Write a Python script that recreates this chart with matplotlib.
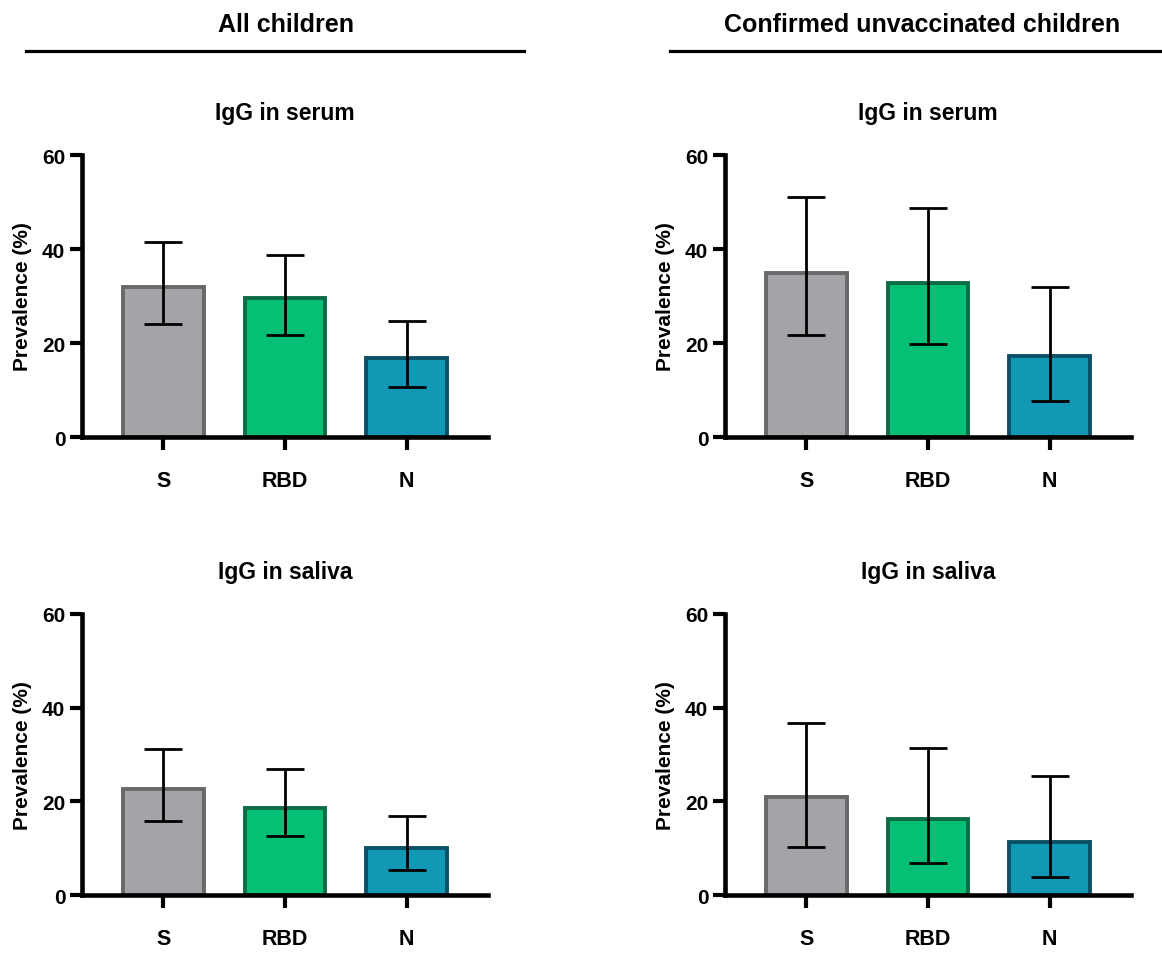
import numpy as np
import matplotlib
matplotlib.use("Agg")
import matplotlib.pyplot as plt
from matplotlib.lines import Line2D

plt.rcParams['font.family'] = ['Liberation Sans', 'DejaVu Sans']
plt.rcParams['font.weight'] = 'bold'

antigens = ['S', 'RBD', 'N']
groups = ['All children', 'Confirmed unvaccinated children']
samples = ['IgG in serum', 'IgG in saliva']

# prevalence (%) with lower / upper limits
all_serum = [32.0, 29.6, 16.8]
all_serum_lo = [24.1, 21.8, 10.6]
all_serum_hi = [41.4, 38.8, 24.7]

all_saliva = [22.6, 18.6, 10.0]
all_saliva_lo = [15.9, 12.5, 5.4]
all_saliva_hi = [31.2, 26.9, 16.9]

unvac_serum = [35.0, 32.7, 17.3]
unvac_serum_lo = [21.6, 19.8, 7.7]
unvac_serum_hi = [51.0, 48.8, 31.9]

unvac_saliva = [20.9, 16.2, 11.4]
unvac_saliva_lo = [10.2, 6.8, 3.9]
unvac_saliva_hi = [36.7, 31.3, 25.5]

fills = ['#A4A3A8', '#05BF74', '#1198B4']
edges = ['#686868', '#0D6B45', '#0B5066']

panels = {
    (0, 0): (all_serum, all_serum_lo, all_serum_hi),
    (1, 0): (all_saliva, all_saliva_lo, all_saliva_hi),
    (0, 1): (unvac_serum, unvac_serum_lo, unvac_serum_hi),
    (1, 1): (unvac_saliva, unvac_saliva_lo, unvac_saliva_hi),
}

W, H = 1162, 954
fig = plt.figure(figsize=(W / 100, H / 100), dpi=100)

lefts = [82, 725]
tops = [156, 615]
bottoms = [438, 896]
ax_w = 406

for (r, c), (vals, lo, hi) in panels.items():
    ax = fig.add_axes([lefts[c] / W, 1 - bottoms[r] / H, ax_w / W,
                       (bottoms[r] - tops[r]) / H])
    x = np.arange(len(antigens))
    vals = np.array(vals)
    yerr = [vals - np.array(lo), np.array(hi) - vals]
    ax.bar(x, vals, width=0.66, color=fills, edgecolor=edges,
           linewidth=2.8, zorder=2)
    ax.errorbar(x, vals, yerr=yerr, fmt='none', ecolor='black',
                elinewidth=2.0, capsize=14, capthick=2.0, zorder=3)
    ax.set_xlim(-0.67, 2.67)
    ax.set_ylim(0, 60)
    ax.set_yticks([0, 20, 40, 60])
    ax.set_xticks(x)
    ax.set_xticklabels(antigens)
    for s in ['top', 'right']:
        ax.spines[s].set_visible(False)
    for s in ['left', 'bottom']:
        ax.spines[s].set_linewidth(3.3)
    ax.tick_params(axis='both', length=9, width=3, labelsize=15)
    ax.tick_params(axis='x', pad=15, labelsize=15.5)
    ax.tick_params(axis='y', pad=3)
    for lab in ax.get_xticklabels() + ax.get_yticklabels():
        lab.set_fontweight('bold')
    ax.set_ylabel('Prevalence (%)', fontsize=15, fontweight='bold', labelpad=7)
    ax.set_title(samples[r], fontsize=16.5, fontweight='bold', pad=26)

# group headers with rules underneath
fig.text(286 / W, 1 - 32 / H, groups[0], ha='center', va='baseline',
         fontsize=18, fontweight='bold')
fig.text(922 / W, 1 - 32 / H, groups[1], ha='center', va='baseline',
         fontsize=18, fontweight='bold')
y_rule = 1 - 51.7 / H
fig.add_artist(Line2D([26 / W, 524 / W], [y_rule, y_rule], color='black',
                      linewidth=2.3, transform=fig.transFigure))
fig.add_artist(Line2D([670 / W, 1.0], [y_rule, y_rule], color='black',
                      linewidth=2.3, transform=fig.transFigure))

fig.savefig('out.png', dpi=100, facecolor='white')
